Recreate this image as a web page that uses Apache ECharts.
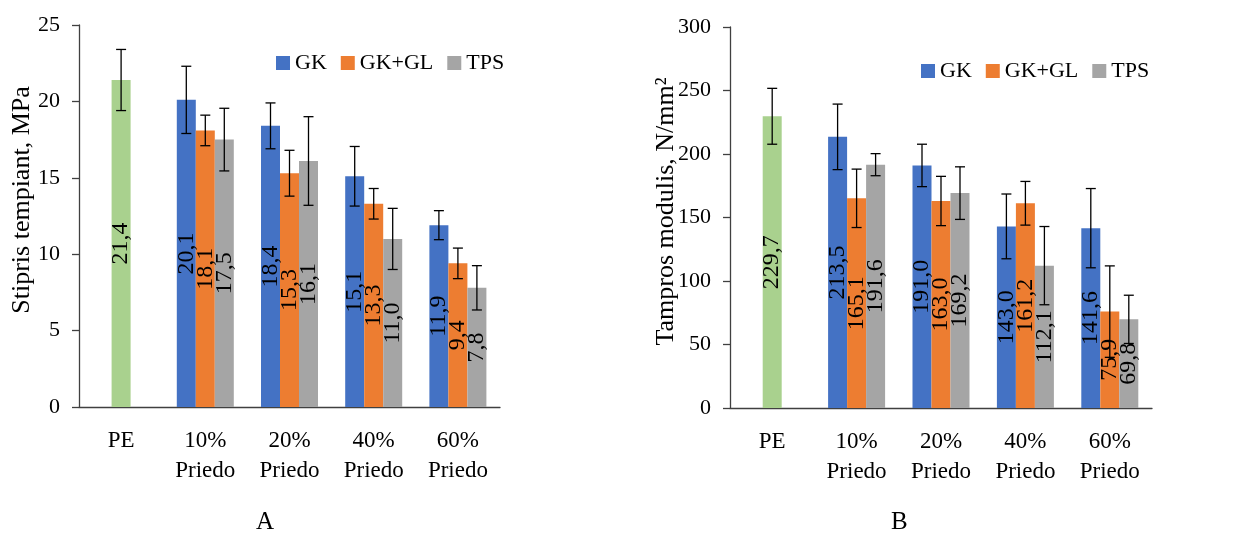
<!DOCTYPE html>
<html>
<head>
<meta charset="utf-8">
<script src="https://cdn.jsdelivr.net/npm/echarts@6/dist/echarts.min.js"></script>
<style>
  html, body { margin: 0; padding: 0; background: #fff; }
  #chart { width: 1259px; height: 534px; }
</style>
</head>
<body>
<div id="chart"></div>
<script>
// Categories shared by both panels
const categories = ['PE', '10%\nPriedo', '20%\nPriedo', '40%\nPriedo', '60%\nPriedo'];
const seriesNames = ['GK', 'GK+GL', 'TPS'];

// Panel A: tensile strength, MPa (PE reference, then GK / GK+GL / TPS per filler share)
const strengthPE = 21.4;
const strengthPEErr = 2.0;
const strengthGK = [20.1, 18.4, 15.1, 11.9];
const strengthGKGL = [18.1, 15.3, 13.3, 9.4];
const strengthTPS = [17.5, 16.1, 11.0, 7.8];
const strengthGKErr = [2.2, 1.5, 1.95, 0.95];
const strengthGKGLErr = [1.0, 1.5, 1.0, 1.0];
const strengthTPSErr = [2.05, 2.9, 2.0, 1.45];
const strengthTicks = { min: 0, max: 25, interval: 5 };

// Panel B: tensile modulus, N/mm²
const modulusPE = 229.7;
const modulusPEErr = 22;
const modulusGK = [213.5, 191.0, 143.0, 141.6];
const modulusGKGL = [165.1, 163.0, 161.2, 75.9];
const modulusTPS = [191.6, 169.2, 112.1, 69.8];
const modulusGKErr = [25.8, 16.7, 25.5, 31.2];
const modulusGKGLErr = [23, 19.4, 17.2, 36];
const modulusTPSErr = [8.7, 20.7, 30.8, 19];
const modulusTicks = { min: 0, max: 300, interval: 50 };

const COLORS = { PE: '#A9D18E', GK: '#4472C4', 'GK+GL': '#ED7D31', TPS: '#A5A5A5' };
const FONT = "'Liberation Serif', 'Times New Roman', serif";
const BAR_W = 19;
const INK = '#000';

const fmt = v => Number(v).toFixed(1).replace('.', ',');

const valueLabel = {
  show: true,
  position: 'inside',
  rotate: 90,
  color: INK,
  fontFamily: FONT,
  fontSize: 24,
  formatter: p => fmt(p.value)
};

// Whisker renderer: value(0)=category, value(1)=mean, value(2)=deviation, value(3)=bar slot
function renderError(params, api) {
  const c = api.value(0), v = api.value(1), e = api.value(2), slot = api.value(3);
  const hi = api.coord([c, v + e]);
  const lo = api.coord([c, v - e]);
  const x = hi[0] + slot * BAR_W;
  const cap = 5;
  const style = { stroke: INK, lineWidth: 1.3 };
  return {
    type: 'group',
    children: [
      { type: 'line', shape: { x1: x, y1: hi[1], x2: x, y2: lo[1] }, style },
      { type: 'line', shape: { x1: x - cap, y1: hi[1], x2: x + cap, y2: hi[1] }, style },
      { type: 'line', shape: { x1: x - cap, y1: lo[1], x2: x + cap, y2: lo[1] }, style }
    ]
  };
}

function groupData(vals) { return ['-'].concat(vals); }

function panelSeries(xMain, xPE, yIdx, pe, peErr, groups, errs) {
  const list = [];
  list.push({
    name: 'PE', type: 'bar', xAxisIndex: xPE, yAxisIndex: yIdx,
    barWidth: BAR_W, itemStyle: { color: COLORS.PE },
    label: valueLabel,
    data: [pe, '-', '-', '-', '-']
  });
  seriesNames.forEach((n, i) => {
    list.push({
      name: n, type: 'bar', xAxisIndex: xMain, yAxisIndex: yIdx,
      barWidth: BAR_W, barGap: '0%',
      itemStyle: { color: COLORS[n] },
      label: valueLabel,
      data: groupData(groups[i])
    });
  });
  const errData = [[0, pe, peErr, 0]];
  seriesNames.forEach((n, i) => {
    groups[i].forEach((v, k) => errData.push([k + 1, v, errs[i][k], i - 1]));
  });
  list.push({
    type: 'custom', xAxisIndex: xMain, yAxisIndex: yIdx, z: 5,
    renderItem: renderError, data: errData, silent: true
  });
  return list;
}

function catAxis(grid, visible) {
  return {
    type: 'category', gridIndex: grid, data: categories, show: visible,
    axisLine: { show: visible, onZero: false, lineStyle: { color: '#404040', width: 1.3 } },
    axisTick: { show: false },
    axisLabel: { color: INK, fontFamily: FONT, fontSize: 23, lineHeight: 30, margin: 19 },
    splitLine: { show: false }
  };
}

function valAxis(grid, ticks, name, gap, pad) {
  return {
    type: 'value', gridIndex: grid, min: ticks.min, max: ticks.max, interval: ticks.interval,
    name: name, nameLocation: 'middle', nameGap: gap, nameRotate: 90, nameMoveOverlap: false,
    nameTextStyle: { color: INK, fontFamily: FONT, fontSize: 26, padding: pad },
    axisLine: { show: true, lineStyle: { color: '#404040', width: 1.3 } },
    axisTick: { show: true, length: 7, lineStyle: { color: '#404040', width: 1.3 } },
    axisLabel: { color: INK, fontFamily: FONT, fontSize: 22, margin: 19, padding: [5, 0, 0, 0] },
    splitLine: { show: false }
  };
}

const legendText = { color: INK, fontFamily: FONT, fontSize: 22 };

const chart = echarts.init(document.getElementById('chart'));
chart.setOption({
  backgroundColor: '#fff',
  animation: false,
  grid: [
    { left: 79, right: 759, top: 25, bottom: 127 },
    { left: 730, right: 107, top: 27, bottom: 126 }
  ],
  legend: [
    { data: seriesNames, left: 271, top: 47, itemWidth: 14, itemHeight: 14, itemGap: 14,
      icon: 'rect', textStyle: legendText, selectedMode: false },
    { data: seriesNames, left: 916, top: 55, itemWidth: 14, itemHeight: 14, itemGap: 14,
      icon: 'rect', textStyle: legendText, selectedMode: false }
  ],
  xAxis: [catAxis(0, true), catAxis(0, false), catAxis(1, true), catAxis(1, false)],
  yAxis: [
    valAxis(0, strengthTicks, 'Stipris tempiant, MPa', 44, [0, 0, 0, 32]),
    valAxis(1, modulusTicks, 'Tampros modulis, N/mm²', 51, [0, 0, 0, 12])
  ],
  series: [].concat(
    panelSeries(0, 1, 0, strengthPE, strengthPEErr,
      [strengthGK, strengthGKGL, strengthTPS], [strengthGKErr, strengthGKGLErr, strengthTPSErr]),
    panelSeries(2, 3, 1, modulusPE, modulusPEErr,
      [modulusGK, modulusGKGL, modulusTPS], [modulusGKErr, modulusGKGLErr, modulusTPSErr])
  ),
  graphic: [
    { type: 'text', left: 256, top: 510, style: { text: 'A', fill: INK, font: "25px 'Liberation Serif'" } },
    { type: 'text', left: 891, top: 510, style: { text: 'B', fill: INK, font: "25px 'Liberation Serif'" } }
  ]
});
</script>
</body>
</html>
